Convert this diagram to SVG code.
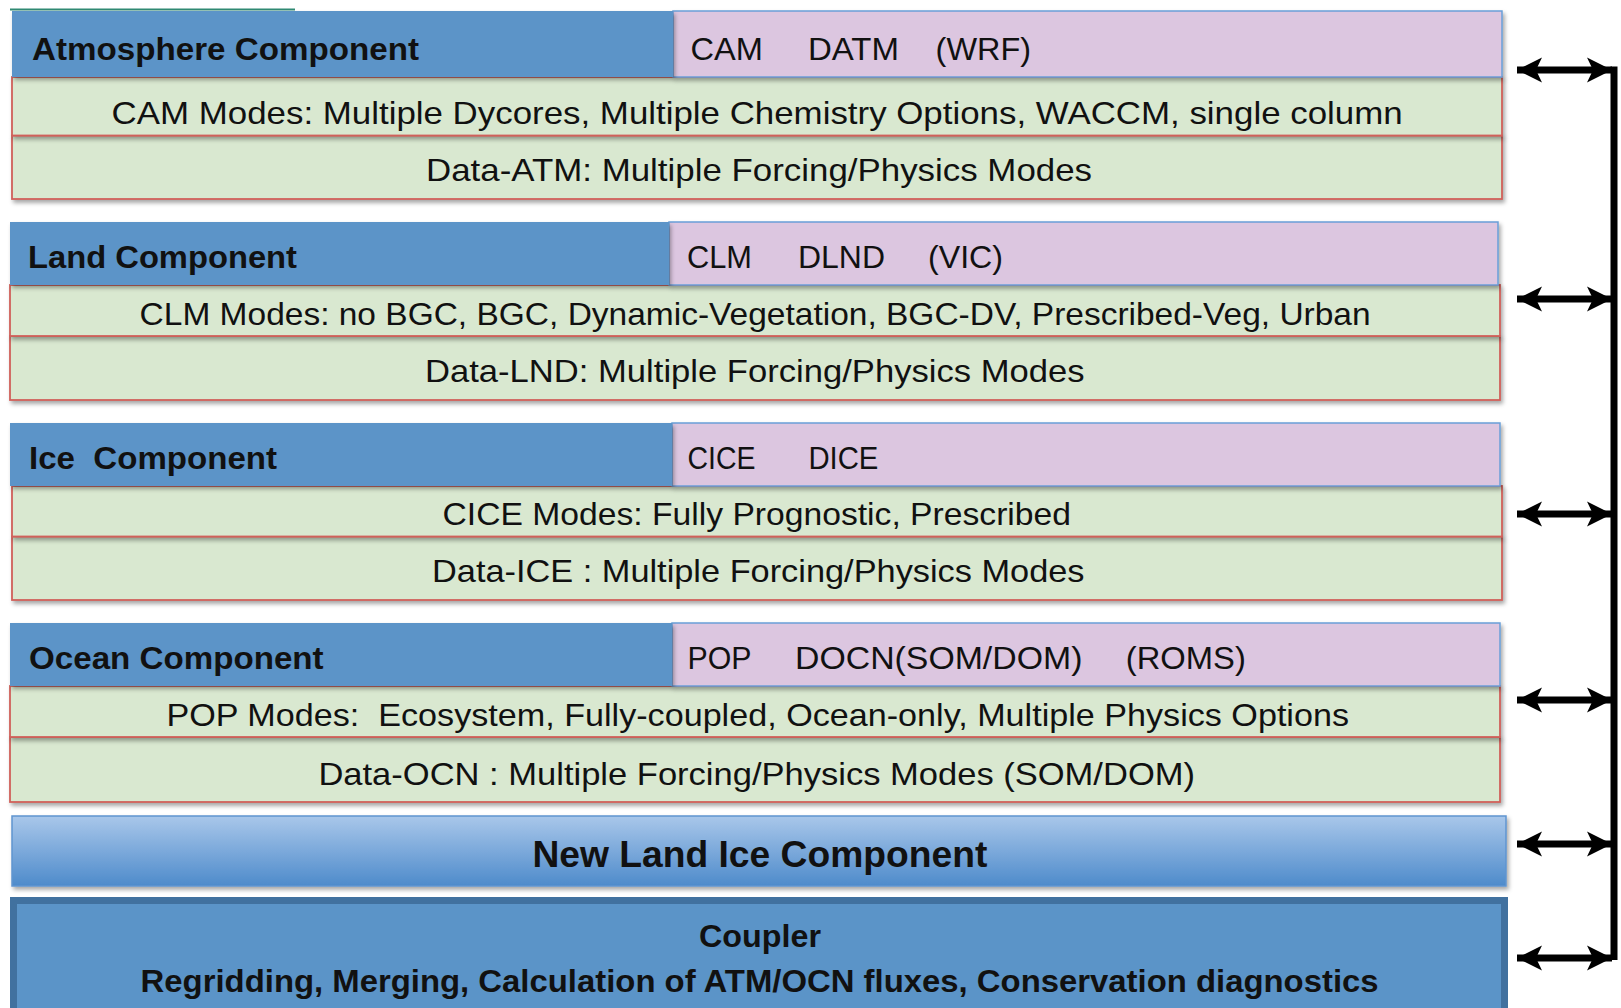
<svg xmlns="http://www.w3.org/2000/svg" width="1621" height="1008" viewBox="0 0 1621 1008">
<style>
text{font-family:"Liberation Sans",Arial,sans-serif;fill:#111;}
.t{font-size:32px;}
.b{font-size:32px;font-weight:bold;}
.hb{fill:#5b94c8;}
.hp{fill:#dcc6e0;stroke:#6a9ed8;stroke-width:1.5;}
.gr{fill:#d9e8d0;stroke:#d0605a;stroke-width:1.8;}
.conn{stroke:#000;stroke-width:7;fill:none;}
</style>
<defs>
<filter id="sh" x="-5%" y="-20%" width="110%" height="150%">
<feDropShadow dx="2" dy="3" stdDeviation="2" flood-color="#000" flood-opacity="0.35"/>
</filter>
<linearGradient id="nli" x1="0" y1="0" x2="0" y2="1">
<stop offset="0" stop-color="#a9c7ea"/>
<stop offset="1" stop-color="#4e8bcb"/>
</linearGradient>
<marker id="ah" markerUnits="userSpaceOnUse" markerWidth="26" markerHeight="26" refX="25" refY="13" orient="auto-start-reverse" viewBox="0 0 26 26">
<path d="M0,0.5 L25,13 L0,25.5 L6,13 Z" fill="#000"/>
</marker>
</defs>
<rect width="1621" height="1008" fill="#fff"/>
<line x1="10" y1="9.5" x2="295" y2="9.5" stroke="#2f8a73" stroke-width="2"/>

<g id="atmosphere">
<rect class="gr" x="12" y="135.5" width="1490" height="63.5" filter="url(#sh)"/>
<rect class="gr" x="12" y="77" width="1490" height="58.5" filter="url(#sh)"/>
<rect class="hp" x="673" y="11" width="829" height="66" filter="url(#sh)"/>
<rect class="hb" x="12" y="11" width="661" height="66" filter="url(#sh)"/>
<text class="b" x="32" y="60" textLength="387" lengthAdjust="spacingAndGlyphs">Atmosphere Component</text>
<text class="t" x="690.6" y="60" textLength="72.4" lengthAdjust="spacingAndGlyphs">CAM</text>
<text class="t" x="808" y="60" textLength="91" lengthAdjust="spacingAndGlyphs">DATM</text>
<text class="t" x="935.6" y="60" textLength="95.4" lengthAdjust="spacingAndGlyphs">(WRF)</text>
<text class="t" x="111.6" y="124" textLength="1291" lengthAdjust="spacingAndGlyphs">CAM Modes: Multiple Dycores, Multiple Chemistry Options, WACCM, single column</text>
<text class="t" x="426" y="181" textLength="666" lengthAdjust="spacingAndGlyphs">Data-ATM: Multiple Forcing/Physics Modes</text>
</g>

<g id="land">
<rect class="gr" x="10" y="336" width="1490" height="64" filter="url(#sh)"/>
<rect class="gr" x="10" y="285" width="1490" height="51" filter="url(#sh)"/>
<rect class="hp" x="669" y="222" width="829" height="63" filter="url(#sh)"/>
<rect class="hb" x="10" y="222" width="659" height="63" filter="url(#sh)"/>
<text class="b" x="28" y="268" textLength="269" lengthAdjust="spacingAndGlyphs">Land Component</text>
<text class="t" x="687" y="268" textLength="65" lengthAdjust="spacingAndGlyphs">CLM</text>
<text class="t" x="798" y="268" textLength="87" lengthAdjust="spacingAndGlyphs">DLND</text>
<text class="t" x="928" y="268" textLength="75" lengthAdjust="spacingAndGlyphs">(VIC)</text>
<text class="t" x="139.6" y="324.5" textLength="1231" lengthAdjust="spacingAndGlyphs">CLM Modes: no BGC, BGC, Dynamic-Vegetation, BGC-DV, Prescribed-Veg, Urban</text>
<text class="t" x="425" y="381.5" textLength="659.5" lengthAdjust="spacingAndGlyphs">Data-LND: Multiple Forcing/Physics Modes</text>
</g>

<g id="ice">
<rect class="gr" x="12" y="536.5" width="1490" height="63.5" filter="url(#sh)"/>
<rect class="gr" x="12" y="486" width="1490" height="50.5" filter="url(#sh)"/>
<rect class="hp" x="672" y="423" width="828" height="63" filter="url(#sh)"/>
<rect class="hb" x="10" y="423" width="662" height="63" filter="url(#sh)"/>
<text class="b" x="29" y="468.5" textLength="248" lengthAdjust="spacingAndGlyphs" xml:space="preserve">Ice  Component</text>
<text class="t" x="687.5" y="468.5" textLength="68" lengthAdjust="spacingAndGlyphs">CICE</text>
<text class="t" x="808.4" y="468.5" textLength="70" lengthAdjust="spacingAndGlyphs">DICE</text>
<text class="t" x="442.5" y="525" textLength="628.5" lengthAdjust="spacingAndGlyphs">CICE Modes: Fully Prognostic, Prescribed</text>
<text class="t" x="432" y="582" textLength="652.5" lengthAdjust="spacingAndGlyphs">Data-ICE : Multiple Forcing/Physics Modes</text>
</g>

<g id="ocean">
<rect class="gr" x="10" y="737" width="1490" height="65" filter="url(#sh)"/>
<rect class="gr" x="10" y="686" width="1490" height="51" filter="url(#sh)"/>
<rect class="hp" x="672" y="623" width="828" height="63" filter="url(#sh)"/>
<rect class="hb" x="10" y="623" width="662" height="63" filter="url(#sh)"/>
<text class="b" x="29" y="669" textLength="294.6" lengthAdjust="spacingAndGlyphs">Ocean Component</text>
<text class="t" x="687.5" y="669" textLength="64" lengthAdjust="spacingAndGlyphs">POP</text>
<text class="t" x="795" y="669" textLength="287.4" lengthAdjust="spacingAndGlyphs">DOCN(SOM/DOM)</text>
<text class="t" x="1125.8" y="669" textLength="120" lengthAdjust="spacingAndGlyphs">(ROMS)</text>
<text class="t" x="166.4" y="726" textLength="1182.6" lengthAdjust="spacingAndGlyphs" xml:space="preserve">POP Modes:  Ecosystem, Fully-coupled, Ocean-only, Multiple Physics Options</text>
<text class="t" x="318.4" y="785" textLength="876.6" lengthAdjust="spacingAndGlyphs">Data-OCN : Multiple Forcing/Physics Modes (SOM/DOM)</text>
</g>

<g id="new-land-ice">
<rect x="12" y="816" width="1494" height="70" fill="url(#nli)" stroke="#5f95d0" stroke-width="1.5" filter="url(#sh)"/>
<text x="532.4" y="867" style="font-size:37px;font-weight:bold" textLength="455" lengthAdjust="spacingAndGlyphs">New Land Ice Component</text>
</g>

<g id="coupler">
<rect x="10" y="897" width="1498" height="120" fill="#41719f"/>
<rect x="17" y="904" width="1484" height="110" fill="#5b94c8"/>
<text class="b" x="699" y="947" textLength="122" lengthAdjust="spacingAndGlyphs">Coupler</text>
<text class="b" x="140.6" y="991.5" textLength="1238" lengthAdjust="spacingAndGlyphs">Regridding, Merging, Calculation of ATM/OCN fluxes, Conservation diagnostics</text>
</g>

<g id="connectors">
<path class="conn" d="M1614,66.5 V960"/>
<path class="conn" d="M1517,70 H1612" marker-start="url(#ah)" marker-end="url(#ah)"/>
<path class="conn" d="M1517,299 H1612" marker-start="url(#ah)" marker-end="url(#ah)"/>
<path class="conn" d="M1517,514 H1612" marker-start="url(#ah)" marker-end="url(#ah)"/>
<path class="conn" d="M1517,700 H1612" marker-start="url(#ah)" marker-end="url(#ah)"/>
<path class="conn" d="M1517,844 H1612" marker-start="url(#ah)" marker-end="url(#ah)"/>
<path class="conn" d="M1517,958 H1612" marker-start="url(#ah)" marker-end="url(#ah)"/>
</g>
</svg>
